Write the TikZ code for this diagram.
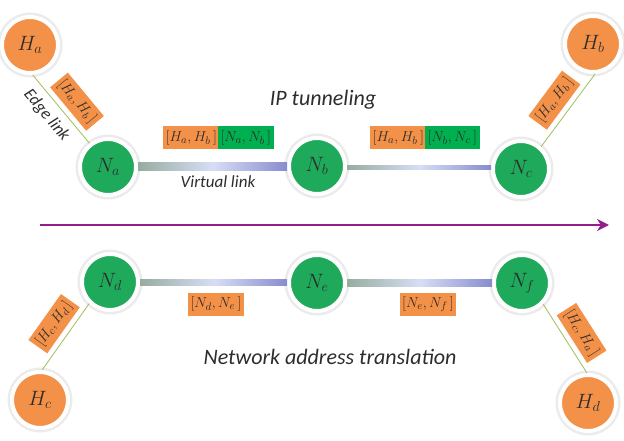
\documentclass[tikz,border=0pt]{standalone}
\usepackage{fontspec}
\setmainfont{Carlito}
\usetikzlibrary{positioning, calc, arrows.meta}
\definecolor{hostorange}{RGB}{244,145,72}
\definecolor{nodegreen}{RGB}{30,170,90}
\definecolor{boxgreen}{RGB}{0,176,80}
\definecolor{edgegreen}{RGB}{160,190,90}
\definecolor{arrowpurple}{RGB}{150,30,140}
\definecolor{linkgray}{RGB}{150,172,160}
\definecolor{linklight}{RGB}{215,222,245}
\definecolor{linkblue}{RGB}{135,140,205}
\definecolor{labelgray}{RGB}{45,45,45}
\tikzset{
    % hosts and routers
    host/.style={
           circle,
           fill=hostorange,
           draw=white, line width=4pt,
           preaction={draw=black!8, line width=9pt},
           minimum size=56pt,
           inner sep=0pt,
           text=labelgray,
           font=\fontsize{22}{22}\selectfont},
    router/.style={host, fill=nodegreen},
    % header boxes
    obox/.style={
           rectangle,
           fill=hostorange,
           draw=hostorange, line width=1pt,
           minimum height=22pt,
           inner sep=2pt,
           outer sep=0pt,
           text=labelgray,
           font=\fontsize{15}{15}\selectfont},
    gbox/.style={obox, fill=boxgreen, draw=boxgreen},
    % links
    edgelink/.style={draw=edgegreen, line width=0.8pt},
    vlink/.style={left color=linkgray, right color=linkblue, middle color=linklight},
    caption/.style={text=labelgray, font=\fontsize{22}{22}\selectfont\itshape},
    smallcap/.style={text=labelgray, font=\fontsize{17}{17}\selectfont\itshape}
}
\begin{document}
\begin{tikzpicture}[x=1pt, y=1pt]
  \useasboundingbox (0,0) rectangle (624,440);

  % IP tunneling side
  \node[host]   (Ha) at (30,395)  {$H_a$};
  \node[router] (Na) at (108,273) {$N_a$};
  \node[router] (Nb) at (317,274) {$N_b$};
  \node[router] (Nc) at (521,271) {$N_c$};
  \node[host]   (Hb) at (593,396) {$H_b$};

  % NAT side
  \node[router] (Nd) at (110,158) {$N_d$};
  \node[router] (Ne) at (317,157) {$N_e$};
  \node[router] (Nf) at (522,157) {$N_f$};
  \node[host]   (Hc) at (40,40)   {$H_c$};
  \node[host]   (Hd) at (588,37)  {$H_d$};

  % virtual links
  \shade[vlink] ([yshift=-3.5pt]Na.east) rectangle ([yshift=3.5pt]Nb.west);
  \shade[vlink] ([yshift=-3.5pt]Nb.east) rectangle ([yshift=3.5pt]Nc.west);
  \shade[vlink] ([yshift=-3.5pt]Nd.east) rectangle ([yshift=3.5pt]Ne.west);
  \shade[vlink] ([yshift=-3.5pt]Ne.east) rectangle ([yshift=3.5pt]Nf.west);

  % edge links
  \draw[edgelink] (Ha.-85) -- node[obox, sloped, above=6pt, pos=0.55] {$[H_a,H_b\,]$}
                             node[smallcap, sloped, below=4pt, pos=0.45] {Edge link} (Na.128);
  \draw[edgelink] (Nc.48) -- node[obox, sloped, above=6pt, pos=0.5] {$[H_a,H_b\,]$} (Hb.-86);
  \draw[edgelink] (Hc.86) -- node[obox, sloped, above=6pt, pos=0.55] {$[H_c,H_d\,]$} (Nd.226);
  \draw[edgelink] (Nf.-45) -- node[obox, sloped, above=6pt, pos=0.55] {$[H_c,H_a\,]$} (Hd.92);

  % tunnel headers
  \node[obox, anchor=east] (hab1) at (219,302) {$[H_a,H_b\,]$};
  \node[gbox, anchor=west, xshift=-0.5pt] (nab) at (hab1.east) {$[N_a,N_b\,]$};
  \node[obox, anchor=east] (hab2) at (426,302) {$[H_a,H_b\,]$};
  \node[gbox, anchor=west, xshift=-0.5pt] (nbc) at (hab2.east) {$[N_b,N_c\,]$};

  % NAT headers
  \node[obox] (nde) at (216,136) {$[N_d,N_e\,]$};
  \node[obox] (nef) at (428,136) {$[N_e,N_f\,]$};

  % captions
  \node[caption]  (iptun)  at (323,340) {IP tunneling};
  \node[smallcap] (vlabel) at (218,258) {Virtual link};
  \node[caption]  (nat)    at (330,83)  {Network address translation};

  % divider arrow
  \coordinate (arrS) at (40,215);
  \coordinate (arrE) at (609,215);
  \draw[arrowpurple, line width=2.5pt, -{Stealth[length=12pt, width=12pt]}] (arrS) -- (arrE);
\end{tikzpicture}
\end{document}
